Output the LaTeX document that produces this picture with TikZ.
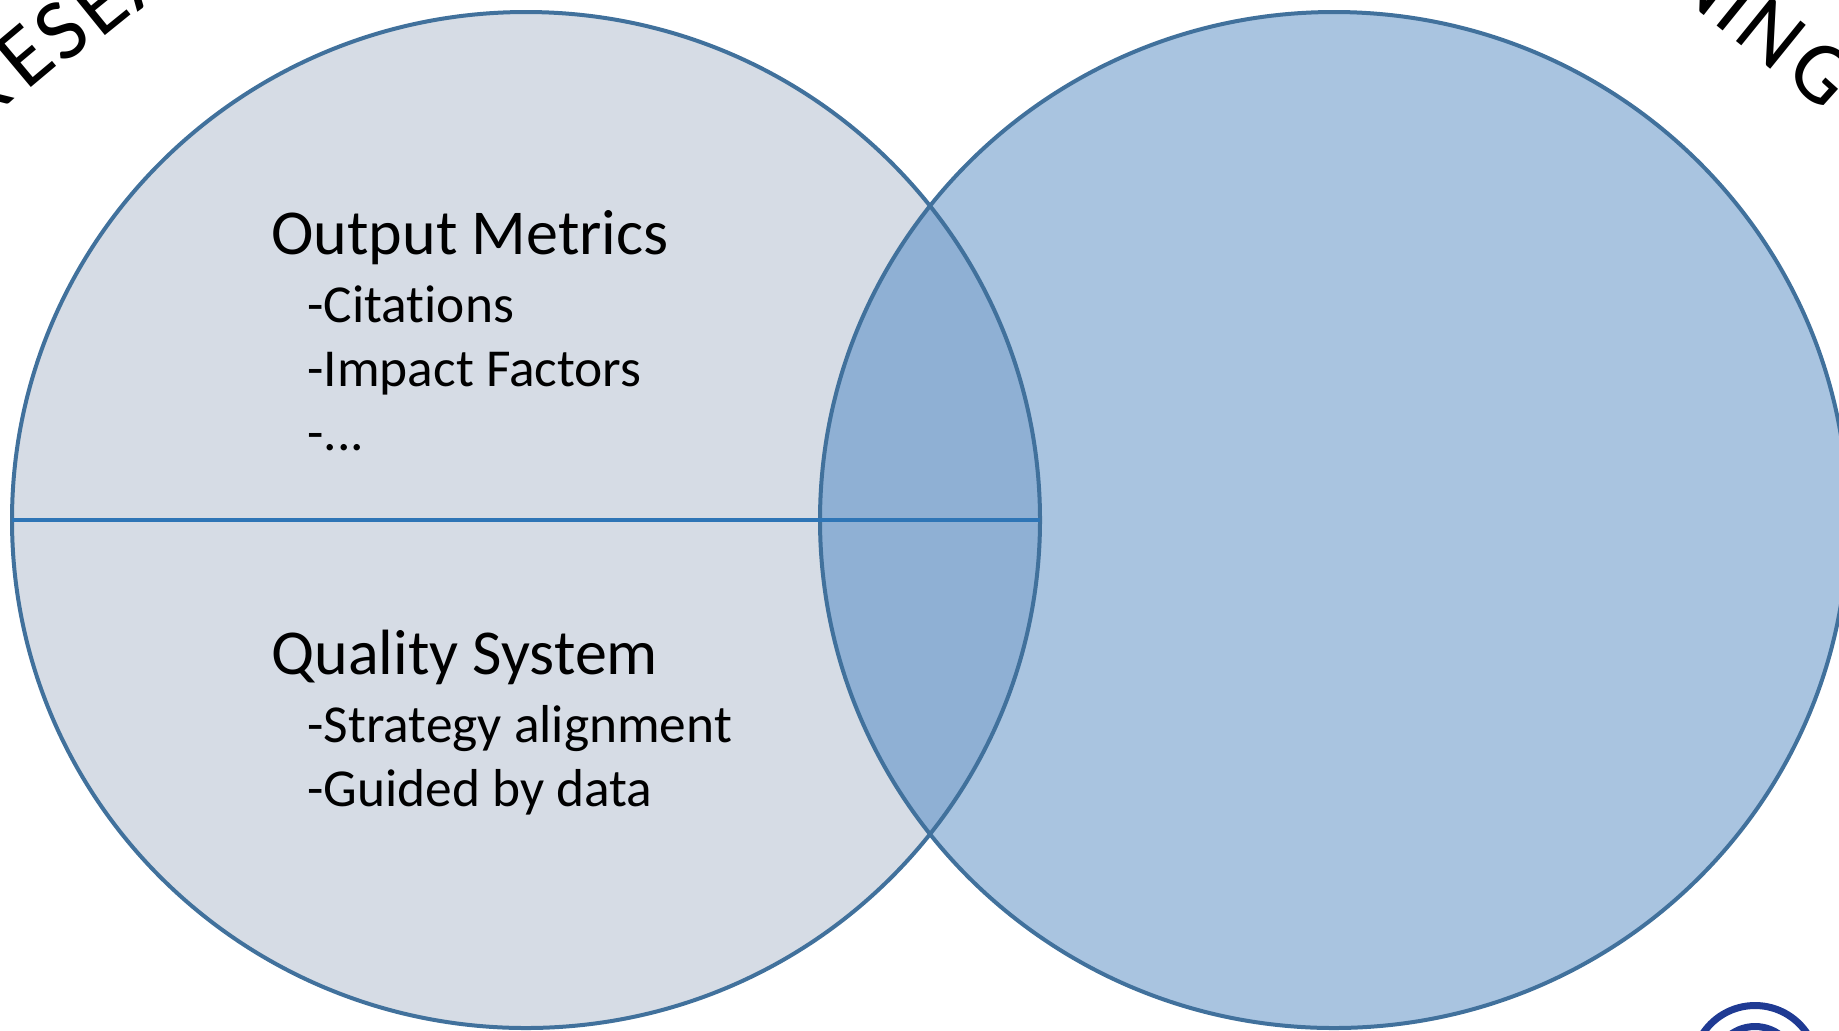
\documentclass[tikz,border=0pt]{standalone}
\usepackage{fontspec}
\usetikzlibrary{shapes.geometric}
\setmainfont[Ligatures=NoCommon]{Carlito}
\definecolor{leftfill}{HTML}{D6DCE5}
\definecolor{rightfill}{HTML}{A9C4E0}
\definecolor{overlapfill}{HTML}{8FB0D4}
\definecolor{ringline}{HTML}{41719C}
\definecolor{splitline}{HTML}{2E75B6}
\definecolor{logoblue}{HTML}{1F3A93}
\tikzset{
  ring/.style={ellipse,minimum width=514pt,minimum height=508pt,inner sep=0pt,outer sep=0pt},
  heading/.style={anchor=base west,inner sep=0pt,font=\fontsize{32}{32}\selectfont},
  item/.style={anchor=base west,inner sep=0pt,font=\fontsize{26.7}{27}\selectfont},
  bigletter/.style={inner sep=0pt,font=\fontsize{44}{44}\selectfont},
}

\begin{document}
\begin{tikzpicture}[x=0.5pt,y=-0.5pt]
\useasboundingbox (0,0) rectangle (1839,1030);
\clip (0,0) rectangle (1839,1030);

\node[ring,fill=leftfill] (research) at (526,520) {};
\node[ring,fill=rightfill] (teaching) at (1334,520) {};
\begin{scope}
\clip (526,520) ellipse [x radius=514,y radius=508];
\fill[overlapfill] (1334,520) ellipse [x radius=514,y radius=508];
\end{scope}
\node[ring,draw=ringline,line width=2pt] at (research) {};
\node[ring,draw=ringline,line width=2pt] at (teaching) {};
\draw[splitline,line width=2.1pt] (research.west) -- (research.east);

\node[heading] (metrics) at (271,254) {Output Metrics};
\node[item] (citations) at (307,322) {-Citations};
\node[item] (impact) at (307,386) {-Impact Factors};
\node[item] (dots) at (307,450) {-...};

\node[heading] (quality) at (271,674) {Quality System};
\node[item] (strategy) at (307,742) {-Strategy alignment};
\node[item] (guided) at (307,806) {-Guided by data};

% letters on the arcs
\foreach \ltr/\x/\y/\ang in {R/-21/93/42,E/25/56/40,S/61/31/39,E/99/4/39,A/142/-25/36}
  \node[bigletter,rotate=\ang] at (\x,\y) {\ltr};
\foreach \ltr/\x/\y/\ang in {N/1704/-20/-38,I/1738/7/-39,N/1771/33/-39,G/1822/73/-42}
  \node[bigletter,rotate=\ang] at (\x,\y) {\ltr};

% logo
\draw[logoblue,line width=3.5pt] (1755,1068) circle (62.5);
\draw[logoblue,line width=3.5pt] (1755,1068) circle (41.5);
\end{tikzpicture}
\end{document}
